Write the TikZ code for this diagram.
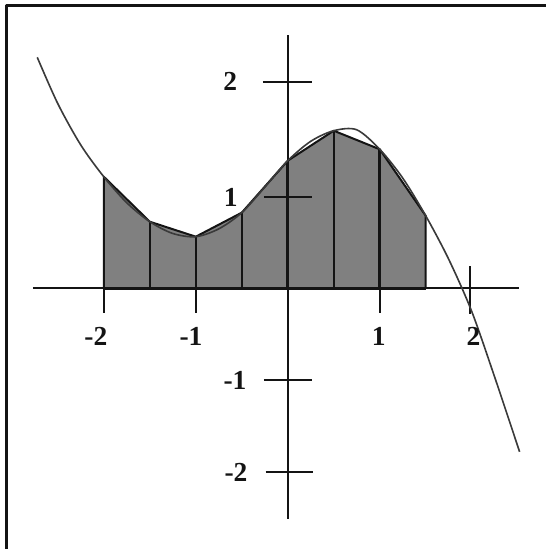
\documentclass[tikz,border=0pt]{standalone}
\usepackage{fontspec}
\setmainfont{Liberation Serif}
\definecolor{ink}{HTML}{141414}
\definecolor{areacol}{HTML}{808080}
\definecolor{curvecol}{HTML}{3A3A3A}

\begin{document}
\begin{tikzpicture}[
  x=1cm, y=1cm, line join=round,
  axis/.style={ink, line width=0.62pt},
  ticklab/.style={font=\fontsize{8.5}{10}\selectfont\bfseries, text=ink, inner sep=0pt}]

% heights of the curve at x = -2, -1.5, ..., 1.5
\def\hA{1.215}
\def\hB{0.726}
\def\hC{0.563}
\def\hD{0.824}
\def\hE{1.389}
\def\hF{1.715}
\def\hG{1.513}
\def\hH{0.790}

\useasboundingbox (-3.128,-2.832) rectangle (2.807,3.136);

% ---- frame (top and left side only) -----------------------------------
\draw[ink, line width=0.8pt] (-3.055,-2.832) -- (-3.055,3.074) -- (2.807,3.074);

% ---- trapezoids ---------------------------------------------------------
\fill[areacol] (-2,0) -- (-2,\hA) -- (-1.5,\hB) -- (-1,\hC) -- (-0.5,\hD)
  -- (0,\hE) -- (0.5,\hF) -- (1,\hG) -- (1.5,\hH) -- (1.5,0) -- cycle;
\draw[axis] (-2,0) -- (-2,\hA) -- (-1.5,\hB) -- (-1,\hC) -- (-0.5,\hD)
  -- (0,\hE) -- (0.5,\hF) -- (1,\hG) -- (1.5,\hH) -- (1.5,0);
\draw[axis] (-1.5,0) -- (-1.5,\hB);
\draw[axis] (-1,0) -- (-1,\hC);
\draw[axis] (-0.5,0) -- (-0.5,\hD);
\draw[axis, line width=0.9pt] (0,0) -- (0,\hE);
\draw[axis] (0.5,0) -- (0.5,\hF);
\draw[axis, line width=0.9pt] (1,0) -- (1,\hG);
\draw[axis, line width=1pt] (-2,0) -- (1.5,0);

% ---- axes and ticks -----------------------------------------------------
\draw[axis] (-2.77,0) -- (2.513,0);
\draw[axis] (0,-2.505) -- (0,2.755);

\draw[axis] (-2,0) -- (-2,-0.27);
\draw[axis] (-1,0) -- (-1,-0.27);
\draw[axis] (1,0) -- (1,-0.27);
\draw[axis] (1.98,0.24) -- (1.98,-0.28);

\draw[axis] (-0.27,2.245) -- (0.26,2.245);
\draw[axis] (-0.26,0.992) -- (0.26,0.992);
\draw[axis] (-0.26,-1.0) -- (0.26,-1.0);
\draw[axis] (-0.24,-2.0) -- (0.27,-2.0);

% ---- the curve ----------------------------------------------------------
\draw[curvecol, line width=0.5pt] plot[smooth, tension=0.5] coordinates {
  (-2.723,2.513) (-2.5,2.01) (-2.25,1.56) (-2,\hA) (-1.75,0.932)
  (-1.5,\hB) (-1.25,0.598) (-1,\hC) (-0.75,0.648) (-0.5,\hD) (-0.25,1.102)
  (0,\hE) (0.25,1.600) (0.5,\hF) (0.75,1.725) (1,\hG) (1.25,1.200)
  (1.5,\hH) (1.75,0.317) (2,-0.250) (2.25,-0.965) (2.52,-1.775)};

% ---- tick labels --------------------------------------------------------
\node[ticklab] (xlabmtwo) at (-2.085,-0.516) {-2};
\node[ticklab] (xlabmone) at (-1.052,-0.516) {-1};
\node[ticklab] (xlabone)  at (0.99,-0.516)   {1};
\node[ticklab] (xlabtwo)  at (2.02,-0.516)   {2};

\node[ticklab] (ylabtwo)  at (-0.625,2.25)   {2};
\node[ticklab] (ylabone)  at (-0.62,0.995)   {1};
\node[ticklab] (ylabmone) at (-0.574,-0.995) {-1};
\node[ticklab] (ylabmtwo) at (-0.563,-2.0)   {-2};

\end{tikzpicture}
\end{document}
